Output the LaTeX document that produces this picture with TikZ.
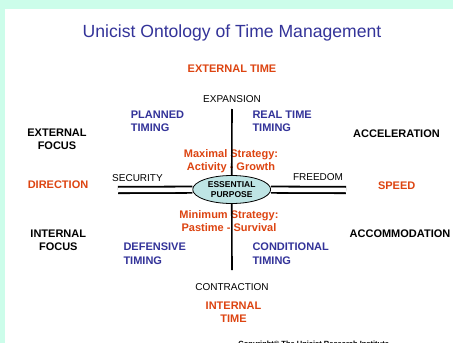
\documentclass[tikz,border=0pt]{standalone}
\usepackage{fontspec}
\setmainfont{Liberation Sans}
\usetikzlibrary{positioning, shapes.geometric}
\definecolor{mint}{RGB}{204,253,234}
\definecolor{titleblue}{RGB}{51,51,153}
\definecolor{labelred}{RGB}{221,68,17}
\definecolor{purposefill}{RGB}{190,228,228}

\begin{document}
\begin{tikzpicture} [x = 1pt, y = -1pt, inner sep = 0pt,
        axis/.style = {font = \fontsize{10}{12}\selectfont, anchor = base},
        pole/.style = {font = \fontsize{11}{13}\selectfont\bfseries, text = labelred, align = center, anchor = base},
        focus/.style = {font = \fontsize{11}{13}\selectfont\bfseries, align = center, anchor = base},
        timing/.style = {font = \fontsize{11}{13.5}\selectfont\bfseries, text = titleblue, align = left, anchor = base west},
        axisline/.style = {line width = 1.6pt},
        dualline/.style = {line width = 1.8pt, double = white, double distance = 4.5pt}]
        \fill [mint] (0,0) rectangle (453,343);
        \fill [white] (5,9) rectangle (453,343);
        \path [use as bounding box, clip] (0,0) rectangle (453,343);

        \node (title) [anchor = base, text = titleblue, font = \fontsize{17.6}{20}\selectfont]
        at (232,37.5) {Unicist Ontology of Time Management};
        \node (exttime) [pole] at (232,72) {EXTERNAL TIME};
        \node (expansion) [axis] at (232,102) {EXPANSION};
        \node (planned) [timing] at (130.7,131.5) {PLANNED\\TIMING};
        \node (realtime) [timing] at (252.3,131.5) {REAL TIME\\TIMING};
        \node (extfocus) [focus] at (57,149) {EXTERNAL\\FOCUS};
        \node (acceleration) [focus] at (396.5,137) {ACCELERATION};
        \node (maximal) [pole] at (231,170) {Maximal Strategy:\\Activity - Growth};
        \node (security) [axis] at (137.5,181) {SECURITY};
        \node (freedom) [axis] at (318,180) {FREEDOM};
        \node (direction) [pole] at (58,188) {DIRECTION};
        \node (speed) [pole] at (396.7,189) {SPEED};
        \node (purpose)
        [ellipse, draw, fill = purposefill, line width = 0.8pt, minimum width = 78pt, minimum height = 28pt,
         align = center, font = \fontsize{8.5}{10.4}\selectfont\bfseries]
        at (231.7,189.5) {ESSENTIAL\\PURPOSE};
        \node (minimum) [pole] at (229,231) {Minimum Strategy:\\Pastime - Survival};
        \node (intfocus) [focus] at (58.3,250.5) {INTERNAL\\FOCUS};
        \node (accommodation) [focus] at (400,237) {ACCOMMODATION};
        \node (defensive) [timing] at (123.3,264) {DEFENSIVE\\TIMING};
        \node (conditional) [timing] at (252.3,264) {CONDITIONAL\\TIMING};
        \node (contraction) [axis] at (232,290.7) {CONTRACTION};
        \node (inttime) [pole] at (233.5,322.7) {INTERNAL\\TIME};
        \node (copyright) [anchor = base, font = \fontsize{7.5}{9}\selectfont\bfseries]
        at (313.7,346) {Copyright© The Unicist Research Institute};

        \coordinate (exptop) at (232,109);
        \coordinate (conbottom) at (232,270);
        \coordinate (secend) at (118,190);
        \coordinate (freeend) at (346,190);

        \path [axisline]
        (exptop) edge (purpose)
        (purpose) edge (conbottom)
        ;
        \draw [dualline] (secend) -- (purpose);
        \draw [dualline] (purpose) -- (freeend);
    \end{tikzpicture}
\end{document}
